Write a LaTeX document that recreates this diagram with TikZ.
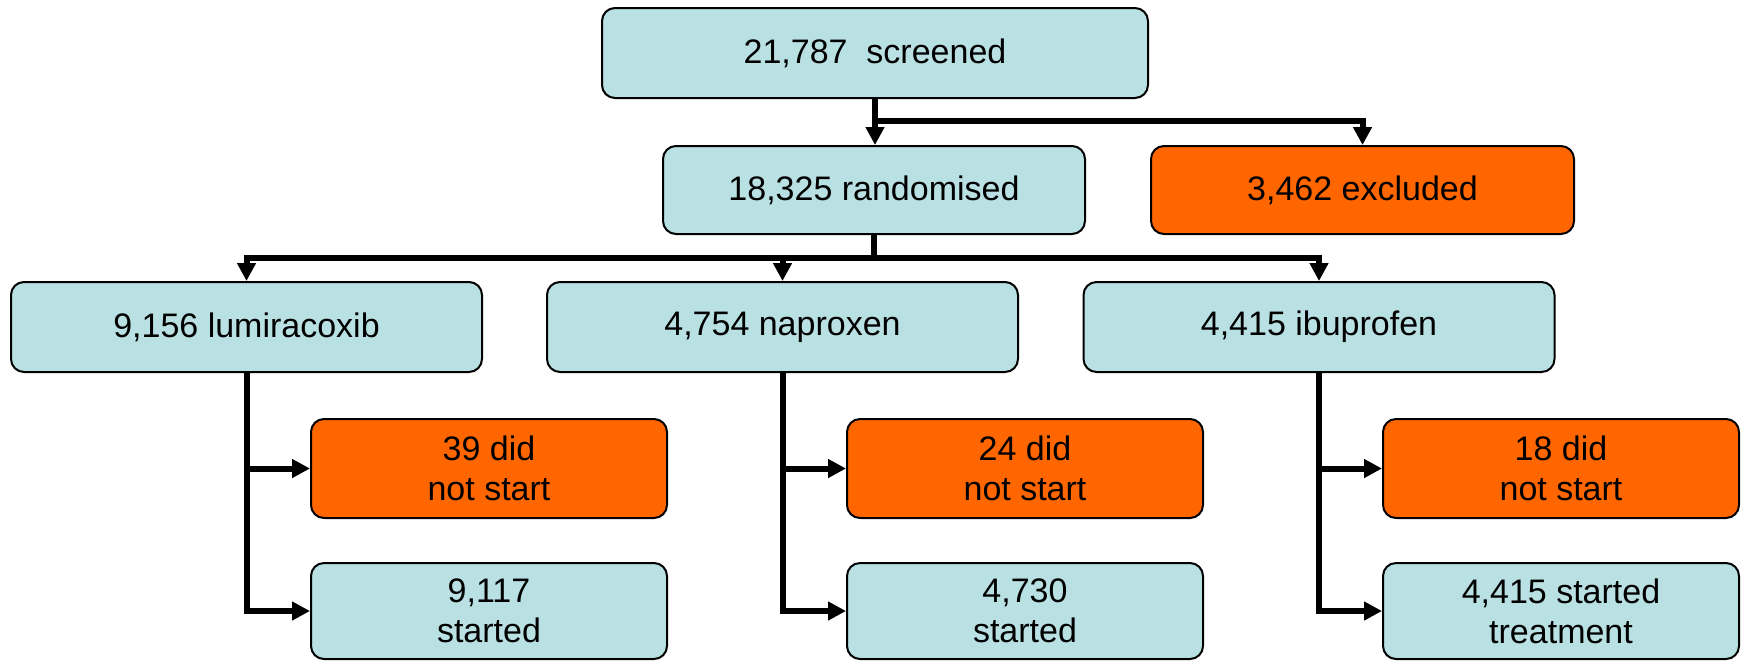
\documentclass[tikz,border=0pt]{standalone}
\usepackage{fontspec}
\setmainfont{Liberation Sans}
\usetikzlibrary{arrows.meta}
\definecolor{boxblue}{RGB}{185,224,227}
\definecolor{boxorange}{RGB}{255,102,0}
\begin{document}
\begin{tikzpicture}[x=0.5pt,y=-0.5pt,
  flowbox/.style={draw=black, line width=1pt, rounded corners=6.5pt,
    align=center, inner sep=0pt, text=black,
    font=\fontsize{17}{20}\selectfont},
  bluebox/.style={flowbox, fill=boxblue},
  orangebox/.style={flowbox, fill=boxorange},
  armbox/.style={minimum width=235.5pt, minimum height=45pt},
  subbox/.style={minimum width=178pt},
  conn/.style={line width=3pt, line join=miter},
  arrowconn/.style={conn, -{Triangle[length=9pt,width=9pt]}}]
\useasboundingbox (0,0) rectangle (1743,660);
\fill[white] (0,0) rectangle (1743,660);

% top of the flow
\node[bluebox, minimum width=273pt, minimum height=45pt] (screen) at (875,53) {21,787\ \ screened};
\node[bluebox, minimum width=211pt, minimum height=44pt] (rand) at (874,190) {18,325 randomised};
\node[orangebox, minimum width=211.5pt, minimum height=44pt] (excl) at (1362.5,190) {3,462 excluded};

% treatment arms
\node[bluebox, armbox] (lumi) at (246.5,327) {9,156 lumiracoxib};
\node[bluebox, armbox] (napr) at (782.5,327) {4,754 naproxen};
\node[bluebox, armbox] (ibu) at (1319,327) {4,415 ibuprofen};

% outcomes per arm
\node[orangebox, subbox, minimum height=49.5pt] (dns1) at (489,468.5) {39 did\\not start};
\node[orangebox, subbox, minimum height=49.5pt] (dns2) at (1025,468.5) {24 did\\not start};
\node[orangebox, subbox, minimum height=49.5pt] (dns3) at (1561,468.5) {18 did\\not start};
\node[bluebox, subbox, minimum height=48pt] (st1) at (489,611) {9,117\\started};
\node[bluebox, subbox, minimum height=48pt] (st2) at (1025,611) {4,730\\started};
\node[bluebox, subbox, minimum height=48pt] (st3) at (1561,611) {4,415 started\\treatment};

% screening split
\coordinate (split) at (875,121);
\draw[arrowconn] (screen.south) -- (screen.south |- rand.north);
\draw[arrowconn] (split) -| (excl.north);

% randomisation split
\coordinate (bar) at (874,258);
\draw[conn] (rand.south) -- (bar);
\draw[arrowconn] (bar) -| (lumi.north);
\draw[arrowconn] (bar) -| (ibu.north);
\draw[arrowconn] (bar -| napr.north) -- (napr.north);

% arm outcomes
\foreach \arm/\d/\s in {lumi/dns1/st1, napr/dns2/st2, ibu/dns3/st3}{
  \draw[arrowconn] (\arm.south) |- (\s.west);
  \draw[arrowconn] (\arm.south |- \d.west) -- (\d.west);
}
\end{tikzpicture}
\end{document}
